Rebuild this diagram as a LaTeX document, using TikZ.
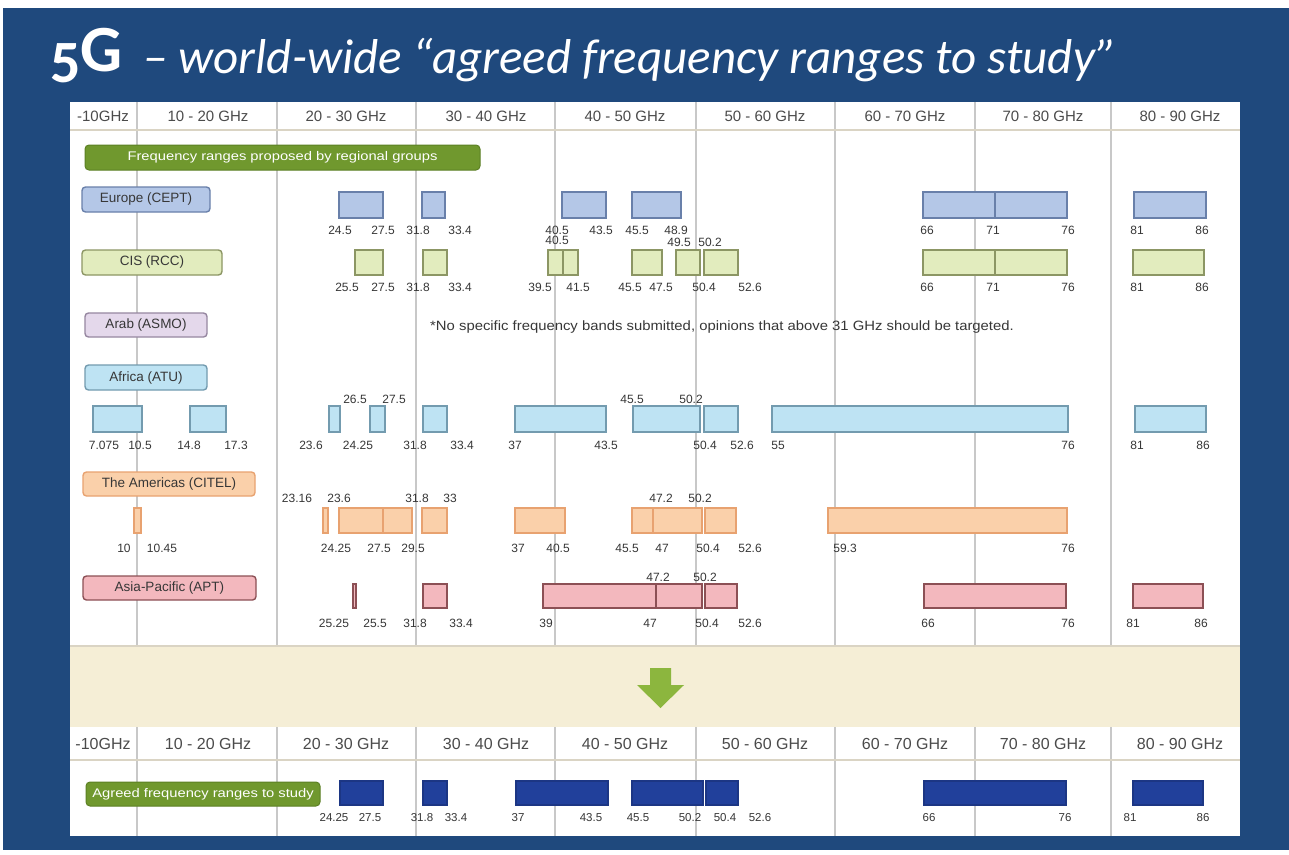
\documentclass[tikz,border=0pt]{standalone}
\usepackage{fontspec}
\setmainfont{Liberation Sans}
\newfontfamily\titlefont{Carlito}
\usetikzlibrary{fit}
\definecolor{bgblue}{RGB}{31,73,125}
\definecolor{gridc}{RGB}{200,200,200}
\definecolor{hlinec}{RGB}{218,212,196}
\definecolor{beige}{RGB}{245,238,214}
\definecolor{barg}{RGB}{112,152,46}
\definecolor{bargd}{RGB}{92,128,36}
\definecolor{arrowg}{RGB}{140,182,62}
\definecolor{hdrtxt}{RGB}{75,75,75}
\definecolor{numtxt}{RGB}{55,55,55}
\definecolor{eufill}{RGB}{180,199,231}
\definecolor{eudraw}{RGB}{105,128,170}
\definecolor{cisfill}{RGB}{226,236,190}
\definecolor{cisdraw}{RGB}{140,150,100}
\definecolor{arfill}{RGB}{228,216,235}
\definecolor{ardraw}{RGB}{150,135,160}
\definecolor{affill}{RGB}{190,227,243}
\definecolor{afdraw}{RGB}{115,155,175}
\definecolor{amfill}{RGB}{250,208,170}
\definecolor{amdraw}{RGB}{232,162,112}
\definecolor{apfill}{RGB}{243,184,190}
\definecolor{apdraw}{RGB}{140,80,85}
\definecolor{agfill}{RGB}{33,64,155}
\newcommand\fb[6]{\node[#1, fit={(#3,#5)(#4,#6)}] (#2) {};}
\begin{document}
\begin{tikzpicture}[x=1pt,y=-1pt,
  grid/.style={gridc, line width=1.5pt},
  hline/.style={hlinec, line width=2pt},
  hdr/.style={font=\fontsize{15}{15}\selectfont, text=hdrtxt, inner sep=0pt},
  hdrb/.style={font=\fontsize{16}{16}\selectfont, text=hdrtxt, inner sep=0pt},
  num/.style={font=\fontsize{12}{12}\selectfont, text=numtxt, inner sep=0pt},
  numb/.style={font=\fontsize{11.5}{11.5}\selectfont, text=numtxt, inner sep=0pt},
  rlab/.style={rounded corners=3.5pt, line width=1.4pt, inner sep=0pt, font=\fontsize{13.5}{13.5}\selectfont, text=numtxt},
  gbar/.style={rounded corners=4pt, fill=barg, draw=bargd, line width=1pt, inner sep=0pt, text=white},
  fbox/.style={inner sep=0pt, line width=1.3pt},
  eub/.style={fbox, fill=eufill, draw=eudraw},
  cisb/.style={fbox, fill=cisfill, draw=cisdraw},
  afb/.style={fbox, fill=affill, draw=afdraw},
  amb/.style={fbox, fill=amfill, draw=amdraw},
  apb/.style={fbox, fill=apfill, draw=apdraw},
  agb/.style={fbox, fill=agfill, draw=agfill!85!black}
]
\useasboundingbox (0,0) rectangle (1289,854);
\fill[white] (0,0) rectangle (1289,854);
\fill[bgblue] (3,8) rectangle (1289,850);
% title
\node[anchor=base west, inner sep=0pt, text=white] (t5g) at (50,71) {\titlefont\bfseries\fontsize{66}{66}\selectfont\raisebox{-11pt}{\fontsize{60}{60}\selectfont 5}G};
\node[anchor=base west, inner sep=0pt, text=white] (title) at (143,73) {\titlefont\itshape\fontsize{49}{49}\selectfont – world-wide “agreed frequency ranges to study”};
% panel
\fill[white] (70,102) rectangle (1240,836);
\fill[beige] (70,646) rectangle (1240,727);
\foreach \x in {137,277,416,555,696,835,975,1111} {
  \draw[grid] (\x,102) -- (\x,646);
  \draw[grid] (\x,727) -- (\x,836);
}
\draw[hline] (70,130) -- (1240,130);
\draw[hline] (70,646) -- (1240,646);
\draw[hline] (70,760) -- (1240,760);
% headers
\foreach \t/\x [count=\i] in {-10GHz/103, 10 - 20 GHz/208, 20 - 30 GHz/346, 30 - 40 GHz/486, 40 - 50 GHz/625, 50 - 60 GHz/765, 60 - 70 GHz/905, 70 - 80 GHz/1043, 80 - 90 GHz/1180} {
  \node[hdr] (hA\i) at (\x,116) {\t};
  \node[hdrb] (hB\i) at (\x,744) {\t};
}
% green bars
\node[gbar, minimum width=395pt, minimum height=25pt] (gb1) at (282.5,157.5) {\scalebox{1.18}[1]{\fontsize{12.5}{12.5}\selectfont Frequency ranges proposed by regional groups}};
\node[gbar, minimum width=234pt, minimum height=24pt] (gb2) at (203,794) {\scalebox{1.18}[1]{\fontsize{12.5}{12.5}\selectfont Agreed frequency ranges to study}};
% region labels
\node[rlab, fill=eufill, draw=eudraw, minimum width=128pt, minimum height=25pt] (reu) at (146,199.5) {Europe (CEPT)};
\node[rlab, fill=cisfill, draw=cisdraw, minimum width=140pt, minimum height=25pt] (rcis) at (152,262.5) {CIS (RCC)};
\node[rlab, fill=arfill, draw=ardraw, minimum width=122pt, minimum height=24pt] (rar) at (146,325) {Arab (ASMO)};
\node[rlab, fill=affill, draw=afdraw, minimum width=122pt, minimum height=25pt] (raf) at (146,377.5) {Africa (ATU)};
\node[rlab, fill=amfill, draw=amdraw, minimum width=172pt, minimum height=24pt] (ram) at (169,484) {The Americas (CITEL)};
\node[rlab, fill=apfill, draw=apdraw, minimum width=173pt, minimum height=24pt] (rap) at (169.5,588) {Asia-Pacific (APT)};
% Europe
\fb{eub}{eu1}{339}{383}{192}{218}
\fb{eub}{eu2}{422}{445}{192}{218}
\fb{eub}{eu3}{562}{606}{192}{218}
\fb{eub}{eu4}{632}{681}{192}{218}
\fb{eub}{eu5}{923}{995}{192}{218}
\fb{eub}{eu6}{995}{1067}{192}{218}
\fb{eub}{eu7}{1134}{1206}{192}{218}
\foreach \t/\x [count=\i] in {24.5/340, 27.5/383, 31.8/418, 33.4/460, 40.5/557, 43.5/601, 45.5/637, 48.9/676, 66/927, 71/993, 76/1068, 81/1137, 86/1202}
  \node[num] (eul\i) at (\x,230) {\t};
% CIS
\fb{cisb}{cis1}{355}{383}{250}{275}
\fb{cisb}{cis2}{423}{447}{250}{275}
\fb{cisb}{cis3}{548}{563}{250}{275}
\fb{cisb}{cis4}{563}{578}{250}{275}
\fb{cisb}{cis5}{632}{662}{250}{275}
\fb{cisb}{cis6}{676}{700}{250}{275}
\fb{cisb}{cis7}{704}{738}{250}{275}
\fb{cisb}{cis8}{923}{995}{250}{275}
\fb{cisb}{cis9}{995}{1067}{250}{275}
\fb{cisb}{cis10}{1133}{1204}{250}{275}
\node[num] (cisa1) at (557,240) {40.5};
\node[num] (cisa2) at (679,242) {49.5};
\node[num] (cisa3) at (710,242) {50.2};
\foreach \t/\x [count=\i] in {25.5/347, 27.5/383, 31.8/418, 33.4/460, 39.5/540, 41.5/578, 45.5/630, 47.5/661, 50.4/704, 52.6/750, 66/927, 71/993, 76/1068, 81/1137, 86/1202}
  \node[num] (cisl\i) at (\x,287) {\t};
% Arab
\node[anchor=west, inner sep=0pt, text=numtxt] (arnote) at (430,327) {\scalebox{1.1}[1]{\fontsize{13.5}{13.5}\selectfont *No specific frequency bands submitted, opinions that above 31 GHz should be targeted.}};
% Africa
\fb{afb}{af1}{93}{142}{406}{432}
\fb{afb}{af2}{190}{226}{406}{432}
\fb{afb}{af3}{329}{340}{406}{432}
\fb{afb}{af4}{370}{385}{406}{432}
\fb{afb}{af5}{423}{447}{406}{432}
\fb{afb}{af6}{515}{606}{406}{432}
\fb{afb}{af7}{633}{700}{406}{432}
\fb{afb}{af8}{704}{738}{406}{432}
\fb{afb}{af9}{772}{1068}{406}{432}
\fb{afb}{af10}{1135}{1206}{406}{432}
\foreach \t/\x [count=\i] in {26.5/355, 27.5/394, 45.5/632, 50.2/691}
  \node[num] (afa\i) at (\x,399) {\t};
\foreach \t/\x [count=\i] in {7.075/104, 10.5/140, 14.8/189, 17.3/236, 23.6/311, 24.25/358, 31.8/415, 33.4/462, 37/515, 43.5/606, 50.4/705, 52.6/742, 55/778, 76/1068, 81/1137, 86/1203}
  \node[num] (afl\i) at (\x,445) {\t};
% Americas
\fb{amb}{am1}{134}{141}{508}{533}
\fb{amb}{am2}{323}{328}{508}{533}
\fb{amb}{am3}{339}{383}{508}{533}
\fb{amb}{am4}{383}{412}{508}{533}
\fb{amb}{am5}{422}{447}{508}{533}
\fb{amb}{am6}{515}{565}{508}{533}
\fb{amb}{am7}{632}{653}{508}{533}
\fb{amb}{am8}{653}{702}{508}{533}
\fb{amb}{am9}{705}{736}{508}{533}
\fb{amb}{am10}{828}{1067}{508}{533}
\foreach \t/\x [count=\i] in {23.16/297, 23.6/339, 31.8/417, 33/450, 47.2/661, 50.2/700}
  \node[num] (ama\i) at (\x,498) {\t};
\foreach \t/\x [count=\i] in {10/124, 10.45/162, 24.25/336, 27.5/379, 29.5/413, 37/518, 40.5/558, 45.5/627, 47/662, 50.4/708, 52.6/750, 59.3/845, 76/1068}
  \node[num] (aml\i) at (\x,548) {\t};
% Asia-Pacific
\fb{apb}{ap1}{353}{356}{584}{608}
\fb{apb}{ap2}{423}{447}{584}{608}
\fb{apb}{ap3}{543}{656}{584}{608}
\fb{apb}{ap4}{656}{702}{584}{608}
\fb{apb}{ap5}{705}{737}{584}{608}
\fb{apb}{ap6}{924}{1066}{584}{608}
\fb{apb}{ap7}{1133}{1203}{584}{608}
\foreach \t/\x [count=\i] in {47.2/658, 50.2/705}
  \node[num] (apa\i) at (\x,577) {\t};
\foreach \t/\x [count=\i] in {25.25/334, 25.5/375, 31.8/415, 33.4/461, 39/546, 47/650, 50.4/707, 52.6/750, 66/928, 76/1068, 81/1133, 86/1201}
  \node[num] (apl\i) at (\x,623) {\t};
% arrow
\fill[arrowg] (650,668) -- (671,668) -- (671,685) -- (684,685) -- (660.5,708) -- (637,685) -- (650,685) -- cycle;
% agreed
\fb{agb}{ag1}{340}{383}{781}{805}
\fb{agb}{ag2}{423}{447}{781}{805}
\fb{agb}{ag3}{516}{608}{781}{805}
\fb{agb}{ag4}{632}{703}{781}{805}
\fb{agb}{ag5}{706}{738}{781}{805}
\fb{agb}{ag6}{924}{1066}{781}{805}
\fb{agb}{ag7}{1133}{1203}{781}{805}
\foreach \t/\x [count=\i] in {24.25/334, 27.5/370, 31.8/422, 33.4/456, 37/518, 43.5/591, 45.5/638, 50.2/690, 50.4/725, 52.6/760, 66/929, 76/1065, 81/1130, 86/1203}
  \node[numb] (agl\i) at (\x,818) {\t};
\end{tikzpicture}
\end{document}
